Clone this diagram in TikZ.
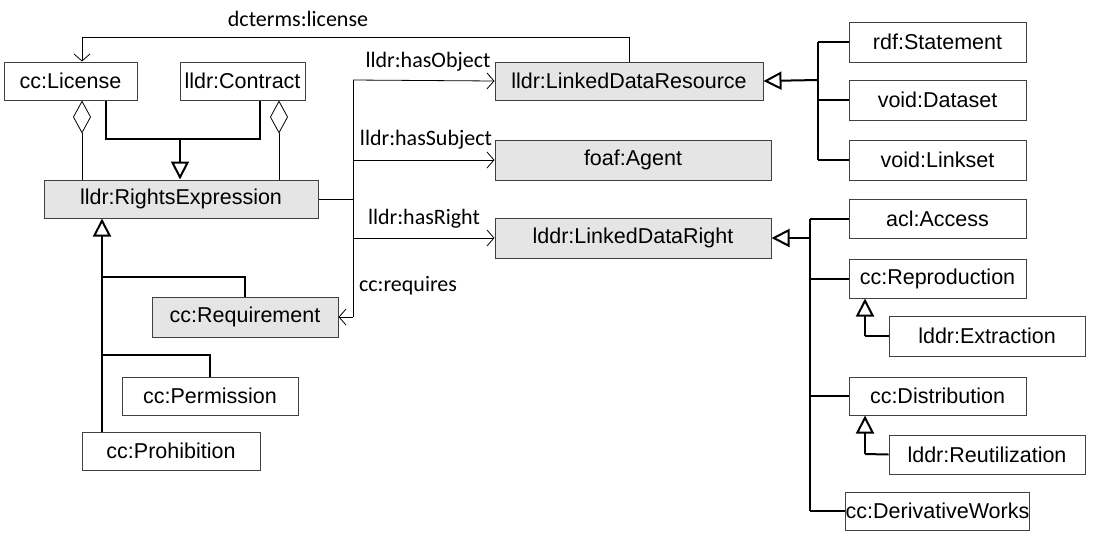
\documentclass[tikz,border=0pt]{standalone}
\usepackage{fontspec}
\setmainfont{Liberation Sans}
\newfontfamily\lblfont{Carlito}
\usetikzlibrary{arrows.meta}
\begin{document}
\begin{tikzpicture}[x=1pt,y=-1pt,
  box/.style={draw=black!75,line width=1pt,inner sep=0pt,font=\fontsize{21.5}{24}\selectfont},
  gbox/.style={box,fill=black!10},
  lbl/.style={font=\lblfont\fontsize{22}{24}\selectfont,inner sep=0pt},
  gen/.style={line width=2pt,-{Triangle[open,length=18pt,width=18pt,line width=2pt]}},
  genl/.style={line width=2pt},
  assoc/.style={line width=0.8pt,-{Straight Barb[length=7pt,width=16pt,line width=0.8pt]}},
  agg/.style={line width=0.8pt,{Diamond[open,length=33pt,width=18pt,line width=0.8pt]}-}]
\useasboundingbox (0,0) rectangle (1099,547);
\newcommand{\bx}[7]{\node[#1,minimum width=#4-#3,minimum height=#6-#5] (#2) at ({(#3+#4)/2},{(#5+#6)/2}) {#7};}
\bx{box}{lic}{4}{137}{62}{100}{cc:License}
\bx{box}{con}{180}{305}{62}{100}{lldr:Contract}
\bx{gbox}{rex}{44}{318}{180}{218}{lldr:RightsExpression}
\bx{gbox}{req}{152}{338}{297}{337}{cc:Requirement}
\bx{box}{per}{122}{298}{377}{415}{cc:Permission}
\bx{box}{pro}{82}{260}{432}{470}{cc:Prohibition}
\bx{gbox}{ldr}{495}{763}{62}{100}{lldr:LinkedDataResource}
\bx{gbox}{ag}{495}{771}{140}{180}{foaf:Agent}
\bx{gbox}{rt}{495}{771}{218}{258}{lddr:LinkedDataRight}
\bx{box}{st}{849}{1026}{22}{62}{rdf:Statement}
\bx{box}{ds}{849}{1026}{80}{120}{void:Dataset}
\bx{box}{ls}{849}{1026}{140}{180}{void:Linkset}
\bx{box}{acc}{849}{1026}{199}{238}{acl:Access}
\bx{box}{rep}{849}{1026}{259}{298}{cc:Reproduction}
\bx{box}{ext}{889}{1085}{316}{356}{lddr:Extraction}
\bx{box}{dis}{849}{1026}{377}{415}{cc:Distribution}
\bx{box}{reu}{889}{1085}{435}{474}{lddr:Reutilization}
\bx{box}{der}{849}{1026}{492}{530}{cc:DerivativeWorks}
% dcterms:license
\coordinate (dl) at (629,37);
\coordinate (dx) at (82,37);
\draw[assoc] (ldr.north -| dl) -- (dl) -- (dx) -- (lic.north -| dx);
\node[lbl] (dlab) at (298,19) {dcterms:license};
% generalization License/Contract
\coordinate (g1) at (106,139); \coordinate (g2) at (260,139); \coordinate (gj) at (180,139);
\draw[genl] (lic.south -| g1) -- (g1) -- (g2) -- (con.south -| g2);
\draw[gen] (gj) -- (rex.north -| gj);
% aggregation
\coordinate (a1) at (82,0); \coordinate (a2) at (279,0);
\draw[agg] (lic.south -| a1) -- (rex.north -| a1);
\draw[agg] (con.south -| a2) -- (rex.north -| a2);
% associations
\coordinate (v0) at (353,80); \coordinate (vm) at (353,199); \coordinate (v1) at (353,160);
\coordinate (v2) at (353,238); \coordinate (v3) at (353,317);
\draw[line width=0.8pt] (rex.east) -- (vm);
\draw[line width=0.8pt] (v0) -- (v3);
\draw[assoc] (v0) -- (ldr.west);
\draw[assoc] (v1) -- (ag.west);
\draw[assoc] (v2) -- (rt.west);
\draw[assoc] (v3) -- (req.east);
\node[lbl] (l1) at (428,62) {lldr:hasObject};
\node[lbl] (l2) at (426,140) {lldr:hasSubject};
\node[lbl] (l3) at (424,219) {lldr:hasRight};
\node[lbl] (l4) at (408,286) {cc:requires};
% left hierarchy
\coordinate (h0) at (102,238); \coordinate (hr) at (102,277); \coordinate (hr2) at (245,277);
\coordinate (hp) at (102,355); \coordinate (hp2) at (210,355);
\draw[gen] (h0) -- (rex.south -| h0);
\draw[genl] (h0) -- (pro.north -| h0);
\draw[genl] (hr) -- (hr2) -- (req.north -| hr2);
\draw[genl] (hp) -- (hp2) -- (per.north -| hp2);
% LDR hierarchy
\coordinate (r0) at (818,80);
\draw[gen] (r0) -- (ldr.east);
\draw[genl] (st.west -| r0) -- (ls.west -| r0);
\draw[genl] (st.west -| r0) -- (st.west);
\draw[genl] (ds.west -| r0) -- (ds.west);
\draw[genl] (ls.west -| r0) -- (ls.west);
% right hierarchy
\coordinate (q0) at (810,238);
\draw[gen] (q0) -- (rt.east);
\draw[genl] (acc.west -| q0) -- (der.west -| q0);
\foreach \n in {acc,rep,dis,der} \draw[genl] (\n.west -| q0) -- (\n.west);
\coordinate (e1) at (865,336); \coordinate (e2) at (865,454);
\draw[gen] (e1) -- (rep.south -| e1);
\draw[genl] (e1) -- (ext.west);
\draw[gen] (e2) -- (dis.south -| e2);
\draw[genl] (e2) -- (reu.west);
\end{tikzpicture}
\end{document}
